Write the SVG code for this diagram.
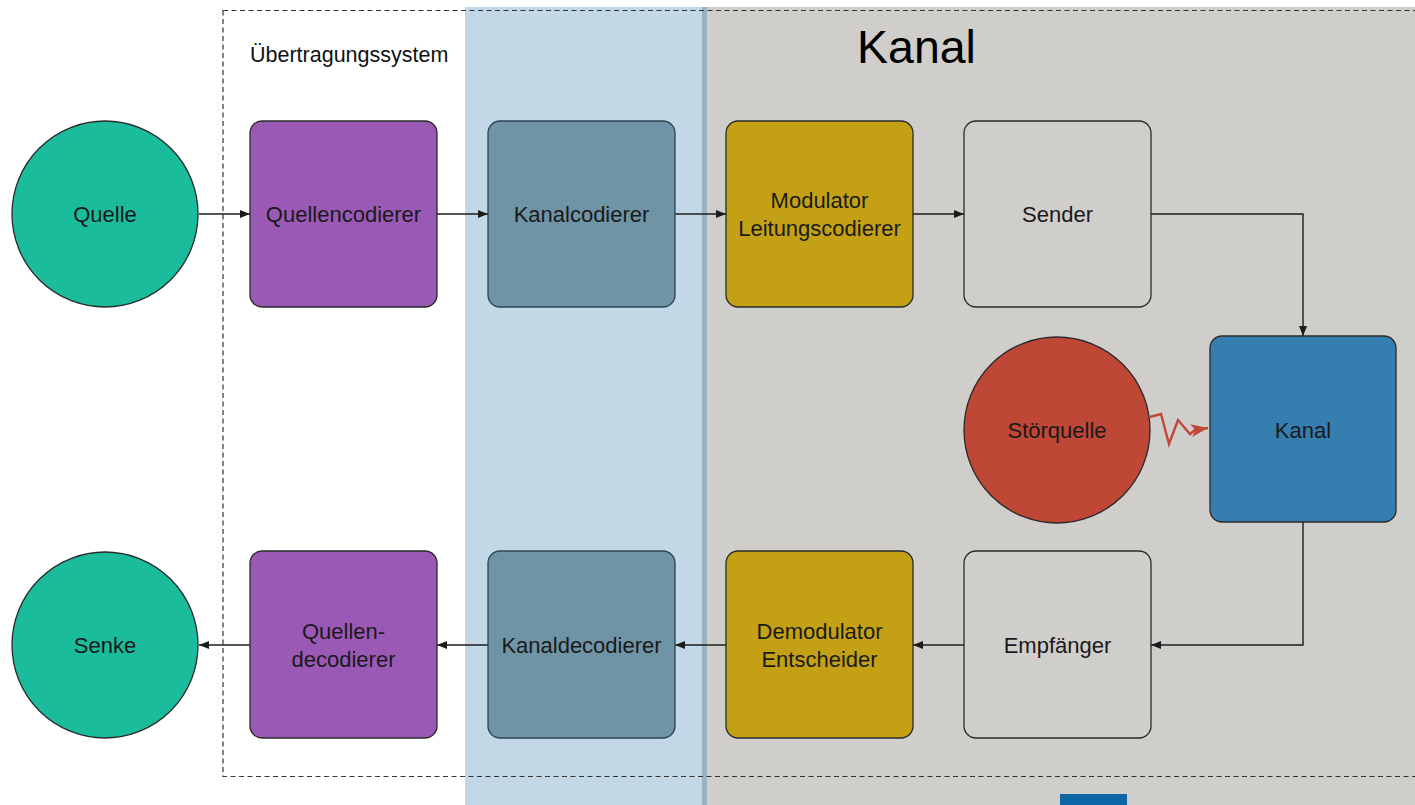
<svg xmlns="http://www.w3.org/2000/svg" width="1415" height="805" viewBox="0 0 1415 805">
  <defs>
    <marker id="arrow" viewBox="0 0 10 10" refX="10" refY="5" markerWidth="10" markerHeight="10" markerUnits="userSpaceOnUse" orient="auto">
      <path d="M0,1 L10,5 L0,9 Z" fill="#1c1c1c"/>
    </marker>
    <marker id="arrow-red" viewBox="0 0 16 12" refX="16" refY="6" markerWidth="17" markerHeight="13" markerUnits="userSpaceOnUse" orient="auto">
      <path d="M0,0 L16,6 L0,12 L4,6 Z" fill="#c0473a"/>
    </marker>
    <style>
      .lbl { font-family: "Liberation Sans", Arial, sans-serif; font-size: 22px; fill: #1a1a1a; text-anchor: middle; }
      .box { stroke: #2a2a2a; stroke-width: 1.3; }
      .src { fill: #1abc9c; stroke: #2a2a2a; stroke-width: 1.3; }
      .enc { fill: #9b59b6; }
      .chc { fill: #6e94a5; stroke: #2c4352; }
      .mod { fill: #c4a015; }
      .grey { fill: #cfceca; }
      .chan { fill: #367db0; }
      .dist { fill: #bf4736; stroke: #2a2a2a; stroke-width: 1.3; }
      .wire { fill: none; stroke: #1c1c1c; stroke-width: 1.4; marker-end: url(#arrow); }
    </style>
  </defs>

  <!-- background areas -->
  <rect x="0" y="0" width="1415" height="805" fill="#ffffff"/>
  <rect x="465" y="7" width="240" height="798" fill="#c2d8e7"/>
  <rect x="705" y="7" width="710" height="798" fill="#cfcecb"/>
  <rect x="702" y="7" width="5" height="798" fill="#9ab2c2"/>
  <rect x="1060" y="794" width="67" height="11" fill="#0d65a6"/>

  <!-- transmission system boundary -->
  <rect x="223" y="10.5" width="1200" height="766" fill="none" stroke="#333333" stroke-width="1.2" stroke-dasharray="5 3.5"/>
  <text x="250" y="62" font-family="Liberation Sans, Arial, sans-serif" font-size="21.5" fill="#111111">Übertragungssystem</text>
  <text x="857" y="63" font-family="Liberation Sans, Arial, sans-serif" font-size="46.5" fill="#000000">Kanal</text>

  <!-- connectors -->
  <g id="connectors">
    <path class="wire" d="M199,214 H250"/>
    <path class="wire" d="M437,214 H488"/>
    <path class="wire" d="M675,214 H726"/>
    <path class="wire" d="M913,214 H964"/>
    <path class="wire" d="M1151,214 H1303 V336"/>
    <path class="wire" d="M1303,522 V645 H1151"/>
    <path class="wire" d="M964,645 H913"/>
    <path class="wire" d="M726,645 H675"/>
    <path class="wire" d="M488,645 H437"/>
    <path class="wire" d="M250,645 H199"/>
    <path d="M1150,417 L1161,414 L1169,444 L1178,420 L1190,434 L1195,430 L1208,428" fill="none" stroke="#c0473a" stroke-width="2.4" stroke-linejoin="miter" marker-end="url(#arrow-red)"/>
  </g>

  <!-- nodes -->
  <g id="quelle">
    <circle class="src" cx="105" cy="214" r="93"/>
    <text class="lbl" x="105" y="222">Quelle</text>
  </g>
  <g id="quellencodierer">
    <rect class="box enc" x="250" y="121" width="187" height="186" rx="12"/>
    <text class="lbl" x="343.5" y="222">Quellencodierer</text>
  </g>
  <g id="kanalcodierer">
    <rect class="box chc" x="488" y="121" width="187" height="186" rx="12"/>
    <text class="lbl" x="581.5" y="222" fill="#17293a">Kanalcodierer</text>
  </g>
  <g id="modulator">
    <rect class="box mod" x="726" y="121" width="187" height="186" rx="12"/>
    <text class="lbl" x="819.5" y="208">Modulator</text>
    <text class="lbl" x="819.5" y="236">Leitungscodierer</text>
  </g>
  <g id="sender">
    <rect class="box grey" x="964" y="121" width="187" height="186" rx="12"/>
    <text class="lbl" x="1057.5" y="222">Sender</text>
  </g>
  <g id="kanal">
    <rect class="box chan" x="1210" y="336" width="186" height="186" rx="12"/>
    <text class="lbl" x="1303" y="438">Kanal</text>
  </g>
  <g id="stoerquelle">
    <circle class="dist" cx="1057" cy="430" r="93"/>
    <text class="lbl" x="1057" y="438">Störquelle</text>
  </g>
  <g id="empfaenger">
    <rect class="box grey" x="964" y="551" width="187" height="187" rx="12"/>
    <text class="lbl" x="1057.5" y="653">Empfänger</text>
  </g>
  <g id="demodulator">
    <rect class="box mod" x="726" y="551" width="187" height="187" rx="12"/>
    <text class="lbl" x="819.5" y="639">Demodulator</text>
    <text class="lbl" x="819.5" y="667">Entscheider</text>
  </g>
  <g id="kanaldecodierer">
    <rect class="box chc" x="488" y="551" width="187" height="187" rx="12"/>
    <text class="lbl" x="581.5" y="653" fill="#17293a">Kanaldecodierer</text>
  </g>
  <g id="quellendecodierer">
    <rect class="box enc" x="250" y="551" width="187" height="187" rx="12"/>
    <text class="lbl" x="343.5" y="639">Quellen-</text>
    <text class="lbl" x="343.5" y="667">decodierer</text>
  </g>
  <g id="senke">
    <circle class="src" cx="105" cy="645" r="93"/>
    <text class="lbl" x="105" y="653">Senke</text>
  </g>
</svg>
